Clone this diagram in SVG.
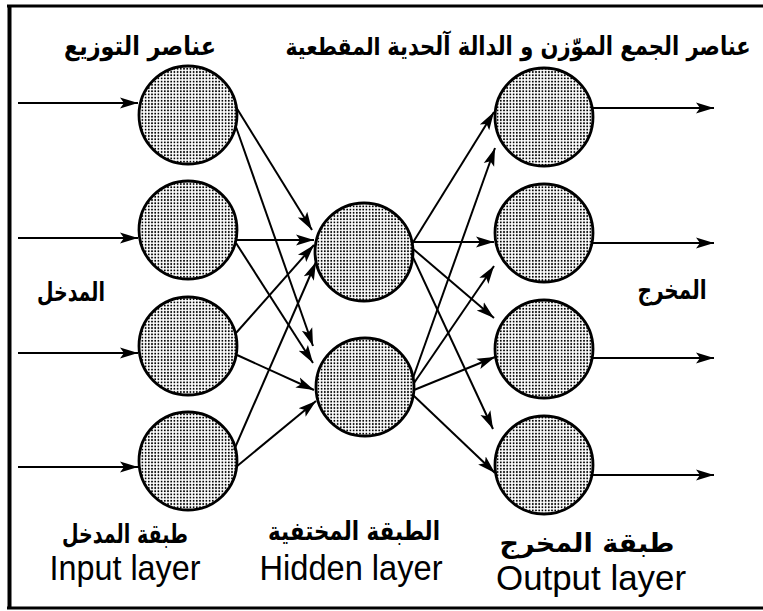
<svg xmlns="http://www.w3.org/2000/svg" width="763" height="611" viewBox="0 0 763 611">
<defs>
<pattern id="dots" width="3.2" height="3.2" patternUnits="userSpaceOnUse"><rect width="3.2" height="3.2" fill="#fff"/><circle cx="1.6" cy="1.6" r="0.95" fill="#000"/></pattern>
<marker id="ah" markerUnits="userSpaceOnUse" markerWidth="20" markerHeight="14" refX="18" refY="7" orient="auto"><path d="M0,1.5 L18,7 L0,12.5 L4,7 z" fill="#000"/></marker>
</defs>
<style>
.node{fill:url(#dots);stroke:#000;stroke-width:2.8}
.c line{stroke:#000;stroke-width:2;marker-end:url(#ah)}
.ar{font-family:"DejaVu Sans",sans-serif;font-weight:bold;fill:#000;direction:rtl;text-anchor:middle}
.en{font-family:"Liberation Sans",Arial,sans-serif;fill:#000;text-anchor:middle}
.frame{stroke:#000;fill:none}
</style>
<rect width="763" height="611" fill="#fff"/>
<g id="frame">
<line class="frame" x1="7" y1="6" x2="763" y2="6" stroke-width="3"/>
<line class="frame" x1="9.5" y1="5" x2="9.5" y2="609" stroke-width="4"/>
<line class="frame" x1="7" y1="608" x2="763" y2="608" stroke-width="3"/>
</g>
<g id="input-layer">
<circle id="i1" class="node" cx="188" cy="115" r="49"/>
<circle id="i2" class="node" cx="188" cy="230" r="49"/>
<circle id="i3" class="node" cx="188" cy="346" r="49"/>
<circle id="i4" class="node" cx="188" cy="461" r="49"/>
</g>
<g id="hidden-layer">
<circle id="h1" class="node" cx="364" cy="252" r="49"/>
<circle id="h2" class="node" cx="365" cy="387" r="49"/>
</g>
<g id="output-layer">
<circle id="o1" class="node" cx="544" cy="117" r="49"/>
<circle id="o2" class="node" cx="544" cy="233" r="49"/>
<circle id="o3" class="node" cx="544" cy="349" r="49"/>
<circle id="o4" class="node" cx="544" cy="465" r="49"/>
</g>
<g id="connectors" class="c">
<line x1="18" y1="103" x2="138" y2="103"/>
<line x1="18" y1="238" x2="138" y2="238"/>
<line x1="18" y1="353" x2="138" y2="353"/>
<line x1="18" y1="467" x2="138" y2="467"/>
<line x1="236" y1="107" x2="312" y2="230"/>
<line x1="236" y1="127" x2="313" y2="346"/>
<line x1="237" y1="240" x2="314" y2="240"/>
<line x1="236" y1="243" x2="313" y2="363"/>
<line x1="236" y1="333" x2="314" y2="245"/>
<line x1="237" y1="355" x2="314" y2="390"/>
<line x1="234" y1="450" x2="316" y2="262"/>
<line x1="236" y1="467" x2="316" y2="401"/>
<line x1="412" y1="244" x2="494" y2="112"/>
<line x1="413" y1="242" x2="494" y2="242"/>
<line x1="412" y1="248" x2="494" y2="318"/>
<line x1="411" y1="253" x2="493" y2="429"/>
<line x1="413" y1="378" x2="495" y2="148"/>
<line x1="414" y1="383" x2="494" y2="266"/>
<line x1="414" y1="390" x2="495" y2="357"/>
<line x1="413" y1="395" x2="495" y2="473"/>
<line x1="592" y1="108" x2="714" y2="108"/>
<line x1="592" y1="243" x2="714" y2="243"/>
<line x1="592" y1="358" x2="714" y2="358"/>
<line x1="592" y1="475" x2="714" y2="475"/>
</g>
<g id="labels">
<text class="ar" x="140" y="55" font-size="26" textLength="152" lengthAdjust="spacingAndGlyphs">عناصر التوزيع</text>
<text class="ar" transform="translate(333 55) scale(0.85 1)" x="0" y="0" font-size="24">المقطعية</text>
<text class="ar" transform="translate(569 55) scale(0.81 1)" x="0" y="0" font-size="26">عناصر الجمع الموّزن و الدالة آلحدية</text>
<text class="ar" x="71" y="301" font-size="26" textLength="68" lengthAdjust="spacingAndGlyphs">المدخل</text>
<text class="ar" x="672" y="299" font-size="26" textLength="69" lengthAdjust="spacingAndGlyphs">المخرج</text>
<text class="ar" x="125" y="543" font-size="26" textLength="126" lengthAdjust="spacingAndGlyphs">طبقة المدخل</text>
<text class="ar" x="354" y="540" font-size="26" textLength="172" lengthAdjust="spacingAndGlyphs">الطبقة المختفية</text>
<text class="ar" x="587" y="552" font-size="26" textLength="175" lengthAdjust="spacingAndGlyphs">طبقة المخرج</text>
<text class="en" x="125" y="580" font-size="35" textLength="151" lengthAdjust="spacingAndGlyphs">Input layer</text>
<text class="en" x="351" y="580" font-size="35" textLength="183" lengthAdjust="spacingAndGlyphs">Hidden layer</text>
<text class="en" x="591" y="590" font-size="35" textLength="190" lengthAdjust="spacingAndGlyphs">Output layer</text>
</g>
</svg>
